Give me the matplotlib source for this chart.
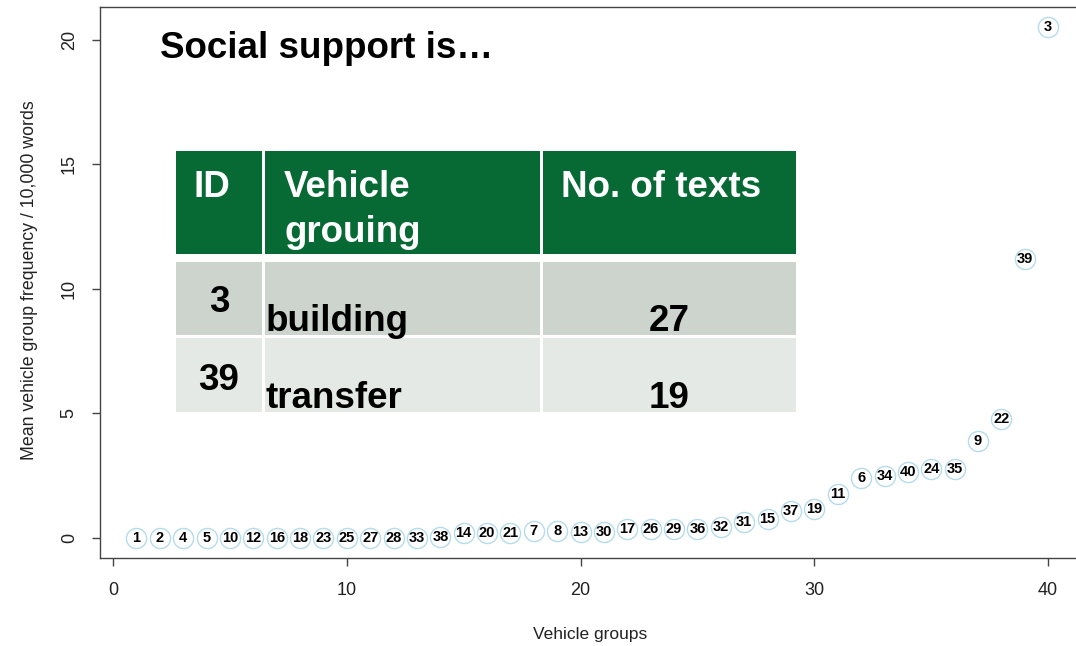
import matplotlib
matplotlib.use("Agg")
import matplotlib.pyplot as plt
from matplotlib.patches import Rectangle

# ---------------- data ----------------
group_ids = [1, 2, 4, 5, 10, 12, 16, 18, 23, 25, 27, 28, 33, 38, 14, 20, 21, 7, 8, 13,
             30, 17, 26, 29, 36, 32, 31, 15, 37, 19, 11, 6, 34, 40, 24, 35, 9, 22, 39, 3]
mean_freq = [0.0, 0.0, 0.0, 0.0, 0.0, 0.0, 0.0, 0.0, 0.0, 0.0, 0.0, 0.0, 0.01, 0.02,
             0.20, 0.20, 0.21, 0.28, 0.28, 0.25, 0.25, 0.36, 0.37, 0.37, 0.38, 0.44,
             0.64, 0.76, 1.08, 1.16, 1.77, 2.41, 2.49, 2.65, 2.77, 2.78, 3.90, 4.78,
             11.2, 20.52]
positions = list(range(1, len(group_ids) + 1))
x_ticks = [0, 10, 20, 30, 40]
y_ticks = [0, 5, 10, 15, 20]

title_text = "Social support is\u2026"
table_header = ["ID", "Vehicle\ngrouing", "No. of texts"]
table_ids = ["3", "39"]
table_names = ["building", "transfer"]
table_counts = ["27", "19"]

# ---------------- figure ----------------
W, H = 1076, 646
plt.rcParams['font.family'] = ['Liberation Sans', 'DejaVu Sans']
fig = plt.figure(figsize=(W / 100, H / 100), dpi=100)
ax = fig.add_axes([100 / W, (H - 558.4) / H, 984.6 / W, 551.4 / H])
ax.set_xlim(-0.56, 41.56)
ax.set_ylim(-0.82, 21.32)

ax.plot(positions, mean_freq, linestyle='none', marker='o', markersize=14.5,
        markerfacecolor='white', markeredgecolor='#b5dcec', markeredgewidth=1.0, zorder=2)
for x, y, lab in zip(positions, mean_freq, group_ids):
    ax.text(x, y, str(lab), ha='center', va='center', fontsize=10.5, fontweight='bold',
            color='black', zorder=3)

ax.set_xticks(x_ticks)
ax.set_yticks(y_ticks)
ax.tick_params(direction='out', length=6, width=1, color='#444444', labelsize=13,
               labelcolor='#222222')
ax.tick_params(axis='x', pad=11)
ax.tick_params(axis='y', pad=10)
for lab in ax.get_yticklabels():
    lab.set_rotation(90)
    lab.set_va('center')
for s in ax.spines.values():
    s.set_color('#444444')
    s.set_linewidth(1)
ax.spines['right'].set_visible(False)

fig.text(590 / W, 1 - 634 / H, "Vehicle groups", ha='center', va='center', fontsize=12.5,
         color='#222222')
fig.text(30 / W, 1 - 280 / H, "Mean vehicle group frequency / 10,000 words", ha='center',
         va='center', rotation=90, fontsize=12.8, color='#222222')

# ---------------- title ----------------
def px(x, y):
    return x / W, 1 - y / H

fig.text(*px(160, 58), title_text, ha='left', va='baseline', fontsize=26.5,
         fontweight='bold', color='black')

# ---------------- table overlay ----------------
def rect(x0, y0, x1, y1, color):
    fig.patches.append(Rectangle((x0 / W, 1 - y1 / H), (x1 - x0) / W, (y1 - y0) / H,
                                 transform=fig.transFigure, facecolor=color,
                                 edgecolor='none', zorder=5))

green = '#076a35'
row_colors = ['#cdd3cd', '#e5e9e5']
rect(176, 151, 796, 254, green)
rect(262, 151, 265, 254, 'white')
rect(540, 151, 543, 254, 'white')
row_spans = [(262, 335), (338, 412)]
for (y0, y1), c in zip(row_spans, row_colors):
    rect(176, y0, 796, y1, c)
    rect(262, y0, 265, y1, 'white')
    rect(540, y0, 543, y1, 'white')

tk = dict(fontsize=26.5, fontweight='bold', zorder=6)
fig.text(*px(193, 197), table_header[0], ha='left', va='baseline', color='white', **tk)
hdr_lines = table_header[1].split("\n")
fig.text(*px(284, 197), hdr_lines[0], ha='left', va='baseline', color='white', **tk)
fig.text(*px(284, 242), hdr_lines[1], ha='left', va='baseline', color='white', **tk)
fig.text(*px(561, 197), table_header[2], ha='left', va='baseline', color='white', **tk)

id_base = [312, 390]
row_base = [331, 408]
for i in range(2):
    fig.text(*px(219, id_base[i]), table_ids[i], ha='center', va='baseline', color='black', **tk)
    fig.text(*px(266, row_base[i]), table_names[i], ha='left', va='baseline', color='black', **tk)
    fig.text(*px(669, row_base[i]), table_counts[i], ha='center', va='baseline', color='black', **tk)

fig.savefig("out.png", dpi=100)
